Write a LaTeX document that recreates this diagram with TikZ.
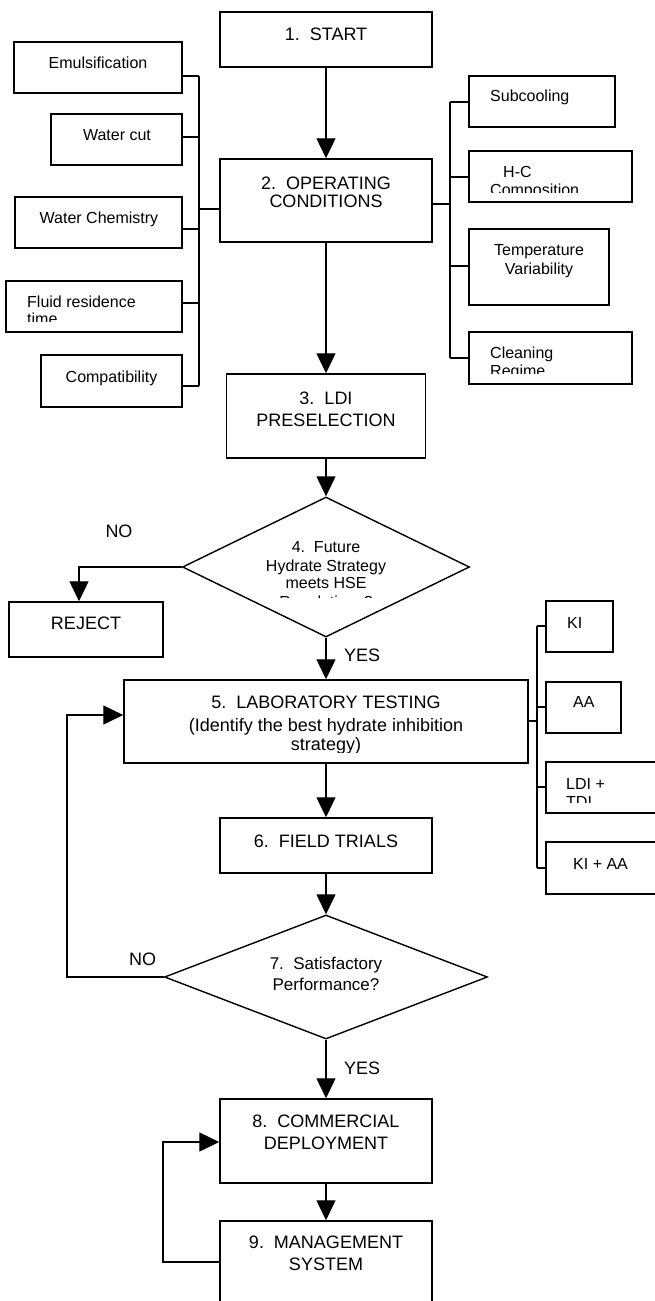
\documentclass[tikz,border=0pt]{standalone}
\usepackage{fontspec}
\setmainfont{Liberation Sans}
\usetikzlibrary{arrows.meta,shapes.geometric}
\begin{document}
\begin{tikzpicture}[x=1pt,y=-1pt,
  box/.style={draw,line width=1.5pt,rectangle,inner sep=0pt},
  dia/.style={draw,line width=1.4pt,diamond,inner sep=0pt},
  big/.style={font=\fontsize{18}{18}\selectfont,inner sep=0pt,anchor=base},
  sml/.style={font=\fontsize{16}{16}\selectfont,inner sep=0pt,anchor=base},
  dtxt/.style={font=\fontsize{17}{17}\selectfont,inner sep=0pt,anchor=base},
  conn/.style={line width=1.4pt},
  busthick/.style={line width=2.7pt},
  arr/.style={line width=1.4pt,-{Triangle[length=20pt,width=19pt]}}]
\useasboundingbox (0,0) rectangle (654,1301);

% ---------- main boxes ----------
\node[box,minimum width=212pt,minimum height=55pt] (start) at (326,39.5) {};
\node[box,minimum width=212pt,minimum height=83pt] (oper) at (326,200.5) {};
\node[box,minimum width=199pt,minimum height=84pt] (ldi) at (326,416) {};
\node[dia,minimum width=287pt,minimum height=140pt] (d4) at (326,567) {};
\node[box,minimum width=154pt,minimum height=55pt] (reject) at (86,629.5) {};
\node[box,minimum width=404pt,minimum height=83pt] (lab) at (326,721.5) {};
\node[box,minimum width=212pt,minimum height=55pt] (field) at (326,845.5) {};
\node[dia,minimum width=323pt,minimum height=124pt] (d7) at (326,977) {};
\node[box,minimum width=212pt,minimum height=84pt] (comm) at (326,1141) {};
\node[box,minimum width=212pt,minimum height=109pt] (mgmt) at (326,1275.5) {};

% ---------- left boxes ----------
\node[box,minimum width=168pt,minimum height=51pt] (emul) at (98,67.5) {};
\node[box,minimum width=131pt,minimum height=51pt] (wcut) at (116.5,139.5) {};
\node[box,minimum width=167pt,minimum height=51pt] (wchem) at (98.5,222.5) {};
\node[box,minimum width=176pt,minimum height=51pt] (fluid) at (94,306.5) {};
\node[box,minimum width=141pt,minimum height=52pt] (compat) at (111.5,381) {};

% ---------- right boxes ----------
\node[box,minimum width=146pt,minimum height=51pt] (sub) at (542,101.5) {};
\node[box,minimum width=163pt,minimum height=51pt] (hc) at (550.5,176.5) {};
\node[box,minimum width=140pt,minimum height=76pt] (temp) at (539,267) {};
\node[box,minimum width=163pt,minimum height=52pt] (clean) at (550.5,358) {};

% ---------- lab option boxes ----------
\node[box,minimum width=67pt,minimum height=51pt] (ki) at (579.5,626.5) {};
\node[box,minimum width=75pt,minimum height=51pt] (aa) at (583.5,707.5) {};
\node[box,minimum width=134pt,minimum height=51pt] (lditdi) at (613,787.5) {};
\node[box,minimum width=134pt,minimum height=52pt] (kiaa) at (613,868) {};

% ---------- texts ----------
\node[big] (t1) at (326,40) {1.\ \ START};
\node[big] (t2a) at (326,189) {2.\ \ OPERATING};
\node[big] (t2b) at (326,207) {CONDITIONS};
\node[big] (t3a) at (326,404) {3.\ \ LDI};
\node[big] (t3b) at (326,426) {PRESELECTION};
\node[sml] (t4a) at (326,552) {4.\ \ Future};
\node[sml] (t4b) at (326,571) {Hydrate Strategy};
\node[sml] (t4c) at (326,588) {meets HSE};
\begin{scope}
  \clip (183,497) rectangle (469,597);
  \node[sml] (t4d) at (326,607) {Regulations?};
\end{scope}
\node[big] (trej) at (86,629) {REJECT};
\node[big] (t5a) at (326,708) {5.\ \ LABORATORY TESTING};
\node[big] (t5b) at (326,731) {(Identify the best hydrate inhibition};
\begin{scope}
  \clip (124,680) rectangle (528,752);
  \node[big] (t5c) at (326,750) {strategy)};
\end{scope}
\node[big] (t6) at (326,847) {6.\ \ FIELD TRIALS};
\node[dtxt] (t7a) at (326,969) {7.\ \ Satisfactory};
\node[dtxt] (t7b) at (326,990) {Performance?};
\node[big] (t8a) at (326,1127) {8.\ \ COMMERCIAL};
\node[big] (t8b) at (326,1149) {DEPLOYMENT};
\node[big] (t9a) at (326,1248) {9.\ \ MANAGEMENT};
\node[big] (t9b) at (326,1270) {SYSTEM};

\node[big] (no4) at (119,537) {NO};
\node[big,anchor=base west] (yes4) at (344,661) {YES};
\node[big,anchor=base west] (no7) at (129,965) {NO};
\node[big,anchor=base west] (yes7) at (344,1074) {YES};

\node[sml] (temul) at (98,68) {Emulsification};
\node[sml] (twcut) at (117,140) {Water cut};
\node[sml] (twchem) at (99,223) {Water Chemistry};
\node[sml,anchor=base west] (tfluid) at (27,307) {Fluid residence};
\begin{scope}
  \clip (6,281) rectangle (182,321);
  \node[sml,anchor=base west] (ttime) at (27,324) {time};
\end{scope}
\node[sml] (tcompat) at (111.5,382) {Compatibility};

\node[sml,anchor=base west] (tsub) at (490,101) {Subcooling};
\node[sml,anchor=base west] (thc) at (503,177) {H-C};
\begin{scope}
  \clip (469,151) rectangle (632,192);
  \node[sml,anchor=base west] (tcomp) at (490,195) {Composition};
\end{scope}
\node[sml] (ttemp) at (539,255) {Temperature};
\node[sml] (tvar) at (539,274) {Variability};
\node[sml,anchor=base west] (tclean) at (490,358) {Cleaning};
\begin{scope}
  \clip (469,332) rectangle (632,373);
  \node[sml,anchor=base west] (tregime) at (490,376) {Regime};
\end{scope}

\node[sml,anchor=base west] (tki) at (567,628) {KI};
\node[sml,anchor=base west] (taa) at (573,707) {AA};
\node[sml,anchor=base west] (tldi) at (566,789) {LDI +};
\begin{scope}
  \clip (546,762) rectangle (654,802);
  \node[sml,anchor=base west] (ttdi) at (566,807) {TDI};
\end{scope}
\node[sml,anchor=base west] (tkiaa) at (573,869) {KI + AA};

% ---------- left bus ----------
\coordinate (lb1) at (199,76);
\coordinate (lb2) at (199,137);
\coordinate (lb3) at (199,229);
\coordinate (lb4) at (199,303);
\coordinate (lb5) at (199,386);
\coordinate (lbm) at (199,209);
\draw[conn] (lb1) -- (lb5);
\draw[conn] (emul.east|-lb1) -- (lb1);
\draw[conn] (wcut.east|-lb2) -- (lb2);
\draw[conn] (wchem.east|-lb3) -- (lb3);
\draw[conn] (fluid.east|-lb4) -- (lb4);
\draw[conn] (compat.east|-lb5) -- (lb5);
\draw[busthick] (lbm) -- (oper.west|-lbm);

% ---------- right bus ----------
\coordinate (rb1) at (450,102);
\coordinate (rb2) at (450,177);
\coordinate (rb3) at (450,266);
\coordinate (rb4) at (450,358);
\coordinate (rbm) at (450,204);
\draw[conn] (rb1) -- (rb4);
\draw[conn] (rb1) -- (sub.west|-rb1);
\draw[conn] (rb2) -- (hc.west|-rb2);
\draw[conn] (rb3) -- (temp.west|-rb3);
\draw[conn] (rb4) -- (clean.west|-rb4);
\draw[busthick] (oper.east|-rbm) -- (rbm);

% ---------- lab bus ----------
\coordinate (kb1) at (537,626);
\coordinate (kb2) at (537,707);
\coordinate (kb3) at (537,787);
\coordinate (kb4) at (537,868);
\coordinate (kbm) at (537,721);
\draw[conn] (kb1) -- (kb4);
\draw[conn] (kb1) -- (ki.west|-kb1);
\draw[conn] (kb2) -- (aa.west|-kb2);
\draw[conn] (kb3) -- (lditdi.west|-kb3);
\draw[conn] (kb4) -- (kiaa.west|-kb4);
\draw[busthick] (lab.east|-kbm) -- (kbm);

% ---------- main flow ----------
\draw[arr] (start) -- (oper);
\draw[arr] (oper) -- (ldi);
\draw[arr] (ldi) -- (d4);
\draw[arr] (d4.west) -| ([xshift=-7pt]reject.north);
\draw[arr] (d4) -- (lab);
\draw[arr] (lab) -- (field);
\draw[arr] (field) -- (d7);
\coordinate (l7) at (67,715);
\draw[arr] (d7.west) -| (l7) -- (lab.west|-l7);
\draw[arr] (d7) -- (comm);
\draw[arr] (comm) -- (mgmt);
\coordinate (m9a) at (163,1262);
\coordinate (m9b) at (163,1142);
\draw[arr] (mgmt.west|-m9a) -- (m9a) -- (m9b) -- (comm.west|-m9b);
\end{tikzpicture}
\end{document}
